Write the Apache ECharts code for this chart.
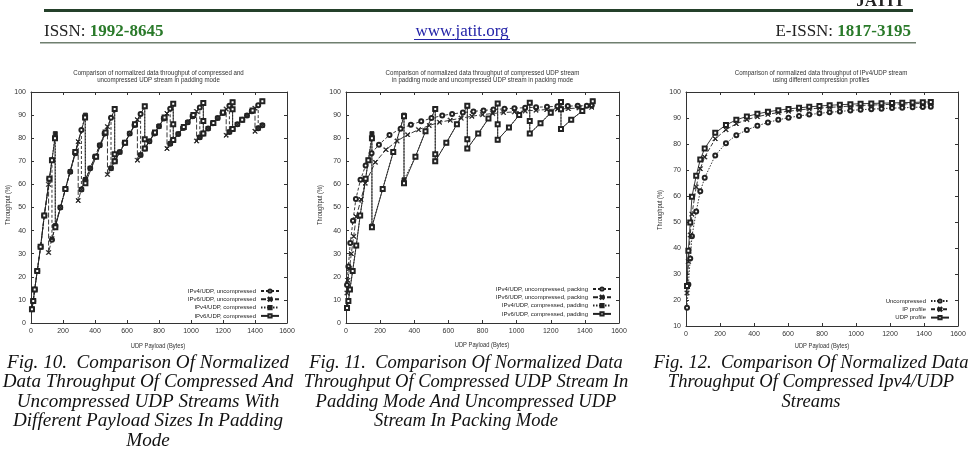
<!DOCTYPE html>
<html><head><meta charset="utf-8">
<script src="https://cdn.jsdelivr.net/npm/echarts@6/dist/echarts.min.js"></script>
<style>html,body{margin:0;padding:0;background:#fff}#c{width:972px;height:452px}</style>
</head><body><div id="c"></div>
<script>
// ---------- Fig. 10 data (UDP payload bytes, throughput %) ----------
const f10_ipv4_unc = [[6,6],[14,9.5],[23,14.5],[39,22.5],[60,33],[83,46.5],[115,62.5],[131,70.5],[131,36],[152,42],[183,50],[215,58],[245,65.5],[277,73.5],[315,83.6],[315,57.8],[340,62],[370,67],[400,72],[430,77],[460,82],[500,88.8],[500,67],[523,70],[555,74],[585,78],[617,82],[647,85.7],[685,90.5],[685,72.7],[711,75.5],[740,78.7],[770,82],[800,85.2],[830,88.5],[870,92.8],[870,77.6],[889,79.2],[920,81.8],[950,84.4],[980,86.9],[1010,89.5],[1055,93.3],[1055,80.4],[1077,82],[1107,84.2],[1137,86.5],[1167,88.7],[1197,90.9],[1240,94.1],[1240,82.7],[1260,84],[1290,86],[1320,88],[1350,89.8],[1380,91.7],[1420,94.3],[1420,84.3],[1446,85.6]];
const f10_ipv6_unc = [[6,6],[14,9.5],[23,14.5],[39,22.5],[60,33],[83,46.5],[110,60],[110,30.5],[131,36.5],[152,42],[183,50],[215,58],[245,65.5],[277,73.5],[295,78.5],[295,53],[315,57.8],[340,62],[370,67],[400,72],[430,77],[460,82],[478,85],[478,64.3],[500,67],[523,70],[555,74],[585,78],[617,82],[647,85.7],[665,88],[665,70.5],[685,72.7],[711,75.5],[740,78.7],[770,82],[800,85.2],[830,88.5],[850,90.7],[850,75.5],[870,77.6],[889,79.2],[920,81.8],[950,84.4],[980,86.9],[1010,89.5],[1035,91.6],[1035,78.8],[1055,80.4],[1077,82],[1107,84.2],[1137,86.5],[1167,88.7],[1197,90.9],[1220,92.6],[1220,81.3],[1240,82.7],[1260,84],[1290,86],[1320,88],[1350,89.8],[1380,91.7],[1400,93],[1400,83],[1420,84.3],[1446,85.6]];
const f10_ipv4_cmp = [[6,6],[14,9.5],[23,14.5],[39,22.5],[60,33],[83,46.5],[115,62.5],[131,70.5],[152,82],[152,42],[215,58],[277,74],[340,90],[340,62],[407,72],[466,82.5],[523,92.6],[523,70],[588,78],[650,86],[711,93.8],[711,75.5],[775,82.5],[835,89],[889,94.9],[889,79.2],[955,84.8],[1015,90],[1077,95.2],[1077,82],[1140,86.6],[1200,91.1],[1260,95.6],[1260,84],[1320,88],[1385,92],[1446,96]];
const f10_ipv6_cmp = [[6,6],[14,9.5],[23,14.5],[39,22.5],[60,33],[83,46.5],[115,62.5],[131,70.5],[150,80],[152,41.5],[215,58],[277,74],[338,89],[340,60.5],[407,72],[466,82.5],[523,92.6],[523,73],[523,70],[588,78],[650,86],[711,93.8],[711,79.5],[711,75.5],[775,82.5],[835,89],[889,94.9],[889,86],[889,79.2],[955,84.8],[1015,90],[1077,95.2],[1077,87.5],[1077,82],[1140,86.6],[1200,91.1],[1260,95.6],[1260,92.5],[1260,84],[1320,88],[1385,92],[1446,96]];

// ---------- Fig. 11 data ----------
const f11_ipv4_unc_pack = [[6,16.5],[14,24.5],[25,34.6],[41,44.3],[58,53.7],[85,62],[115,68.2],[150,73.5],[193,77.2],[255,81.4],[320,84.1],[380,85.8],[441,87.3],[501,88.7],[564,89.8],[622,90.5],[685,91.1],[747,91.6],[806,92],[864,92.4],[929,92.7],[987,93],[1050,93.2],[1114,93.4],[1178,93.6],[1239,93.8],[1300,93.9],[1358,94],[1411,94.1],[1440,94.2]];
const f11_ipv6_unc_pack = [[6,13],[10,18.5],[20,23.5],[31,30],[45,37.5],[60,46],[88,53.5],[113,60.5],[172,69.6],[234,75],[299,78.8],[361,81.5],[425,83.7],[488,85.5],[548,86.9],[611,87.8],[675,88.7],[738,89.5],[800,90.2],[860,90.7],[923,91.1],[987,91.4],[1050,91.8],[1114,92.1],[1177,92.4],[1239,92.6],[1303,92.8],[1366,93.1],[1440,93.4]];
const f11_ipv4_cmp_pad = [[6,6.5],[14,9.5],[23,14.5],[39,22.5],[60,33.5],[83,46.5],[115,62.5],[131,70.5],[152,82],[152,42],[215,58],[277,74],[340,90],[340,62],[407,72],[466,83],[523,92.6],[523,70],[588,78],[650,86],[711,94],[711,75.5],[775,82],[835,88.5],[889,95],[889,79.3],[955,84.6],[1015,90],[1077,95.3],[1077,82],[1140,86.5],[1200,91],[1260,95.7],[1260,84],[1320,88],[1385,91.8],[1446,96]];
const f11_ipv6_cmp_pad = [[6,6.5],[14,9.5],[23,14.5],[39,22.5],[60,33.5],[83,46.5],[115,62.5],[131,70.5],[152,80],[152,41.5],[215,58],[277,74],[340,89.5],[340,60.5],[407,72],[466,83],[523,92.6],[523,73],[523,70],[588,78],[650,86],[711,94],[711,79.5],[711,75.5],[775,82],[835,88.5],[889,95],[889,86],[889,79.3],[955,84.6],[1015,90],[1077,95.3],[1077,87.5],[1077,82],[1140,86.5],[1200,91],[1260,95.7],[1260,92.5],[1260,84],[1320,88],[1385,91.8],[1446,96]];

// ---------- Fig. 12 data ----------
const f12_payload = [6,14,25,35,60,84,110,172,235,296,358,420,482,543,603,665,725,785,845,905,967,1027,1090,1150,1212,1272,1333,1393,1440];
const f12_uncompressed = [17,26,36,44.5,54,61.8,67,75.6,80.3,83.4,85.4,87,88.3,89.3,90.1,90.8,91.3,91.8,92.2,92.5,92.9,93.2,93.4,93.6,93.8,93.9,94.1,94.2,94.3];
const f12_ip_profile = [22.7,34.8,45,53,63.5,70.5,75,82,85.5,87.8,89.4,90.5,91.4,92.1,92.6,93.1,93.5,93.8,94.1,94.3,94.6,94.8,95,95.1,95.3,95.4,95.5,95.6,95.7];
const f12_udp_profile = [25.4,38.9,49.8,59.7,67.8,74,78.3,84.3,87.3,89.3,90.6,91.6,92.4,93,93.5,93.9,94.3,94.6,94.9,95.1,95.3,95.5,95.6,95.7,95.8,95.9,96,96.1,96.2];

const names10 = ['IPv4/UDP, uncompressed','IPv6/UDP, uncompressed','IPv4/UDP, compressed','IPv6/UDP, compressed'];
const names11 = ['IPv4/UDP, uncompressed, packing','IPv6/UDP, uncompressed, packing','IPv4/UDP, compressed, padding','IPv6/UDP, compressed, padding'];
const names12 = ['Uncompressed','IP profile','UDP profile'];

// ---------- rendering ----------
const F = "'Liberation Sans', Arial, sans-serif";
const INK = '#222';
const CROSS = 'path://M0,1L1,0L5,4L9,0L10,1L6,5L10,9L9,10L5,6L1,10L0,9L4,5Z';

const grids = [
  {left:31, top:92, width:256, height:231},
  {left:346, top:92, width:273, height:231},
  {left:686, top:92, width:272, height:234}
];
const yMin = [0,0,10];

function xAx(gi, pos, lab){
  return {type:'value', gridIndex:gi, position:pos, min:0, max:1600, interval:200,
    axisLine:{show:true, onZero:false, lineStyle:{color:'#333', width:1}},
    axisTick:{show:true, inside:true, length:3, lineStyle:{color:'#333'}},
    axisLabel:{show:lab, fontSize:7, color:'#333', margin:5, fontFamily:F, formatter:v=>String(v)},
    splitLine:{show:false}};
}
function yAx(gi, pos, lab){
  return {type:'value', gridIndex:gi, position:pos, min:yMin[gi], max:100, interval:10,
    axisLine:{show:true, onZero:false, lineStyle:{color:'#333', width:1}},
    axisTick:{show:true, inside:true, length:3, lineStyle:{color:'#333'}},
    axisLabel:{show:lab, fontSize:7, color:'#333', margin:5, fontFamily:F, formatter:v=>String(v)},
    splitLine:{show:false}};
}
const xAxis = [], yAxis = [];
for (let g=0; g<3; g++){
  xAxis.push(xAx(g,'bottom',true)); xAxis.push(xAx(g,'top',false));
  yAxis.push(yAx(g,'left',true)); yAxis.push(yAx(g,'right',false));
}

function ser(name, g, data, symbol, dash){
  return {name, type:'line', xAxisIndex:g*2, yAxisIndex:g*2, data,
    symbol, symbolSize: symbol===CROSS?4.5:4, showSymbol:true, animation:false,
    lineStyle:{color:INK, width:0.9, type:dash},
    itemStyle:{color:INK, borderColor:INK, borderWidth:0.9}};
}
const zip = (xs, ys) => xs.map((x,i)=>[x, ys[i]]);

const series = [
  ser(names10[0],0,f10_ipv4_unc,'emptyCircle',[3,2]),
  ser(names10[1],0,f10_ipv6_unc,CROSS,[5,2]),
  ser(names10[2],0,f10_ipv4_cmp,'rect',[1.5,1.5]),
  ser(names10[3],0,f10_ipv6_cmp,'emptyRect','solid'),
  ser(names11[0],1,f11_ipv4_unc_pack,'emptyCircle',[3,2]),
  ser(names11[1],1,f11_ipv6_unc_pack,CROSS,[5,2]),
  ser(names11[2],1,f11_ipv4_cmp_pad,'rect',[1.5,1.5]),
  ser(names11[3],1,f11_ipv6_cmp_pad,'emptyRect','solid'),
  ser(names12[0],2,zip(f12_payload,f12_uncompressed),'emptyCircle',[1.5,1.5]),
  ser(names12[1],2,zip(f12_payload,f12_ip_profile),CROSS,[4,2]),
  ser(names12[2],2,zip(f12_payload,f12_udp_profile),'emptyRect','solid')
];

function leg(names, right, top){
  return {data:names, orient:'vertical', align:'right', right, top, itemWidth:18, itemHeight:4, itemGap:2.3,
    padding:0, selectedMode:false,
    textStyle:{fontSize:6, color:'#222', fontFamily:F, lineHeight:6, padding:[0,0,0,0]}};
}

function txt(x, y, text, font, fill, align){
  return {type:'text', x, y, silent:true,
    style:{text, font, fill, align:align||'left', verticalAlign:'middle'}};
}
const graphic = [
  {type:'rect', silent:true, shape:{x:44, y:9, width:869, height:3}, style:{fill:'#24402a'}},
  {type:'rect', silent:true, shape:{x:40, y:42, width:876, height:1.5}, style:{fill:'#6f7f6f'}},
  txt(905, 2, 'JATIT', "bold 17px 'Liberation Serif'", '#222', 'right'),
  {type:'text', x:44, y:31.5, silent:true, style:{text:'{a|ISSN: }{b|1992-8645}', verticalAlign:'middle',
    rich:{a:{font:"17px 'Liberation Serif'", fill:'#222'}, b:{font:"bold 17px 'Liberation Serif'", fill:'#2a7a2a'}}}},
  txt(462, 31.5, 'www.jatit.org', "17px 'Liberation Serif'", '#2323a8', 'center'),
  {type:'rect', silent:true, shape:{x:414, y:39, width:96, height:1}, style:{fill:'#2323a8'}},
  {type:'text', x:911, y:31.5, silent:true, style:{text:'{a|E-ISSN: }{b|1817-3195}', align:'right', verticalAlign:'middle',
    rich:{a:{font:"17px 'Liberation Serif'", fill:'#222'}, b:{font:"bold 17px 'Liberation Serif'", fill:'#2a7a2a'}}}}
];
function title(cx, cy, text){
  return {type:'text', x:cx, y:cy, scaleX:0.82, silent:true,
    style:{text, font:"7.5px "+F, fill:'#333', align:'center', verticalAlign:'middle', lineHeight:7}};
}
graphic.push(title(158.5, 76.5, 'Comparison of normalized data throughput of compressed and\nuncompressed UDP stream in padding mode'));
graphic.push(title(482.5, 76.5, 'Comparison of normalized data throughput of compressed UDP stream\nin padding mode and uncompressed UDP stream in packing mode'));
graphic.push(title(821, 76.5, 'Comparison of normalized data throughput of IPv4/UDP stream\nusing different compression profiles'));
function xt(cx, cy){ return {type:'text', x:cx, y:cy, scaleX:0.72, silent:true, style:{text:'UDP Payload (Bytes)', font:"8px "+F, fill:'#333', align:'center', verticalAlign:'middle'}}; }
function yt(cx, cy){ return {type:'text', x:cx, y:cy, rotation:Math.PI/2, scaleX:0.72, silent:true, style:{text:'Throughput (%)', font:"8px "+F, fill:'#333', align:'center', verticalAlign:'middle'}}; }
graphic.push(xt(158, 345.5), xt(482, 345), xt(822, 346));
graphic.push(yt(8, 205), yt(320, 205), yt(660, 210));
function cap(cx, text, sx){
  return {type:'text', x:cx, y:353, scaleX:sx, silent:true,
    style:{text, font:"italic 19.5px 'Liberation Serif'", fill:'#111', align:'center', verticalAlign:'top', lineHeight:19.5}};
}
graphic.push(cap(148, 'Fig. 10.  Comparison Of Normalized\nData Throughput Of Compressed And\nUncompressed UDP Streams With\nDifferent Payload Sizes In Padding\nMode', 0.98));
graphic.push(cap(466, 'Fig. 11.  Comparison Of Normalized Data\nThroughput Of Compressed UDP Stream In\nPadding Mode And Uncompressed UDP\nStream In Packing Mode', 0.95));
graphic.push(cap(811, 'Fig. 12.  Comparison Of Normalized Data\nThroughput Of Compressed Ipv4/UDP\nStreams', 0.95));

const chart = echarts.init(document.getElementById('c'), null, {renderer:'canvas'});
chart.setOption({
  backgroundColor:'#fff', animation:false,
  grid: grids, xAxis, yAxis, series,
  legend:[leg(names10, 692, 288), leg(names11, 360, 286), leg(names12, 22, 298)],
  graphic
});
</script></body></html>
